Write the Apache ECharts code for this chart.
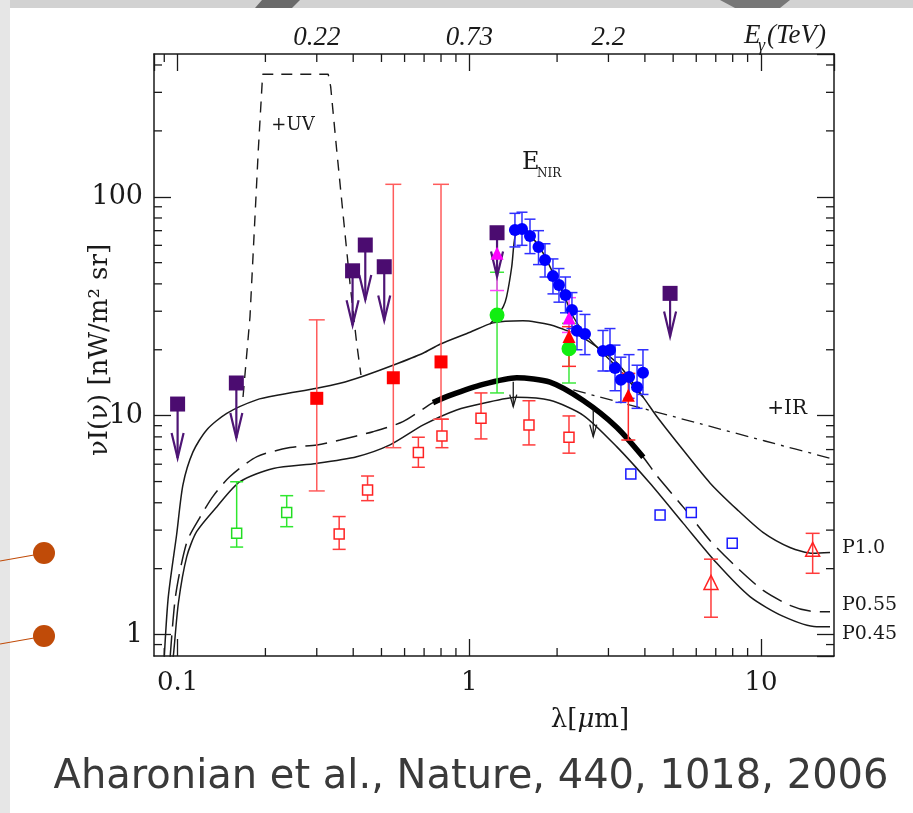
<!DOCTYPE html>
<html>
<head>
<meta charset="utf-8">
<script src="https://cdn.jsdelivr.net/npm/echarts@6/dist/echarts.min.js"></script>
<style>
html, body { margin: 0; padding: 0; background: #fff; }
#chart { width: 913px; height: 813px; }
</style>
</head>
<body>
<div id="chart"></div>
<script>
// model curves: wavelength [um] -> nuI(nu) [nW/m^2 sr]
const p10Lambda = [0.0884, 0.0927, 0.0993, 0.1043, 0.1129, 0.1258, 0.1474, 0.1866, 0.2244, 0.2998, 0.3603, 0.432, 0.5475, 0.694, 0.7932, 1.006, 1.206, 1.528, 1.891, 2.454, 3.208, 3.94, 4.402, 5.403, 6.686, 8.273, 10.16, 12.57, 15.08, 17.25]
const p10Value  = [0.50, 1.44, 2.88, 4.83, 6.83, 8.61, 10.25, 11.81, 12.45, 13.34, 14.06, 15.14, 16.99, 19.28, 21.2, 24.05, 26.54, 27.11, 26.0, 22.67, 17.43, 12.19, 9.88, 6.98, 4.93, 3.73, 2.93, 2.50, 2.35, 2.37]

const nirLambda = [1.178, 1.245, 1.308, 1.343, 1.398, 1.435, 1.492, 1.552, 1.657, 1.794, 1.941, 2.100, 2.273, 2.459, 2.734, 3.201, 3.749, 3.950]
const nirValue  = [26.24, 28.53, 31.46, 34.95, 47.9, 65.7, 70.4, 70.8, 64.5, 55.1, 44.6, 36.1, 28.3, 24.15, 20.63, 16.71, 13.08, 12.15]

const p055Lambda = [0.0912, 0.098, 0.1075, 0.1193, 0.1322, 0.1512, 0.1872, 0.2428, 0.3005, 0.3603, 0.4676, 0.5924, 0.7509, 0.8587, 1.114, 1.454, 1.891, 2.459, 3.201, 3.95, 4.39, 5.417, 6.686, 8.254, 10.18, 12.57, 14.72, 17.25]
const p055Value  = [0.41, 1.44, 2.64, 3.43, 4.28, 5.27, 6.50, 7.15, 7.35, 7.74, 8.45, 9.39, 11.47, 12.37, 13.89, 14.90, 14.23, 11.73, 8.86, 6.46, 5.33, 3.82, 2.69, 2.03, 1.59, 1.36, 1.28, 1.27]

const thickLambda = [0.7509, 0.8587, 1.114, 1.454, 1.891, 2.459, 3.201, 3.95]
const thickValue  = [11.47, 12.37, 13.89, 14.90, 14.23, 11.73, 8.86, 6.46]

const p045Lambda = [0.0927, 0.0967, 0.1006, 0.1075, 0.1162, 0.1362, 0.1636, 0.2128, 0.2998, 0.4111, 0.5347, 0.6957, 0.9053, 1.117, 1.454, 1.891, 2.459, 3.201, 4.165, 5.417, 7.049, 9.169, 11.93, 15.52, 17.25]
const p045Value  = [0.50, 0.80, 1.39, 2.27, 2.95, 3.83, 4.99, 5.74, 6.05, 6.49, 7.35, 9.07, 10.62, 11.40, 12.14, 11.76, 10.04, 7.22, 4.91, 3.22, 2.12, 1.49, 1.21, 1.086, 1.086]

const uvLambda = [0.1676, 0.1771, 0.1842, 0.1891, 0.1957, 0.3285, 0.3348, 0.3511, 0.3699, 0.39, 0.4111, 0.4252]
const uvValue  = [12.17, 28.35, 81.1, 163.6, 362.8, 362.8, 318.4, 163.6, 81.1, 40.2, 21.4, 15.34]

const irLambda = [2.273, 6.18, 10.32, 17.25]
const irValue  = [13.11, 9.19, 7.66, 6.39]

// measurements
const ulLambda  = [0.100, 0.159, 0.398, 0.440, 0.511, 1.245, 4.88]
const ulValue   = [11.3, 14.1, 45.9, 60.2, 47.9, 68.5, 36.2]
const ulArrowTo = [6.41, 7.91, 25.9, 33.8, 27.2, 43.2, 23.0]

const redSqLambda = [0.300, 0.549, 0.800]
const redSqValue  = [12.0, 14.9, 17.6]
const redSqLow    = [4.53, 7.14, 9.63]
const redSqHigh   = [27.4, 114, 114]

const redOpenLambda = [0.358, 0.448, 0.669, 0.806, 1.097, 1.602, 2.197]
const redOpenValue  = [2.88, 4.58, 6.78, 8.08, 9.73, 9.07, 7.97]
const redOpenLow    = [2.45, 4.09, 5.81, 7.14, 7.83, 7.35, 6.74]
const redOpenHigh   = [3.46, 5.30, 7.97, 9.64, 12.7, 11.7, 9.97]

const greenOpenLambda = [0.1594, 0.2366]
const greenOpenValue  = [2.90, 3.61]
const greenOpenLow    = [2.51, 3.11]
const greenOpenHigh   = [4.99, 4.31]

const greenLambda = [1.245, 2.197]
const greenValue  = [28.8, 20.2]
const greenLow    = [12.7, 14.1]
const greenHigh   = [45.2, 26.4]

const magLambda = [1.245, 2.197]
const magValue  = [55.2, 27.9]
const magLow    = [37.3, 24.0]
const magHigh   = [70.5, 34.6]

const redTriLambda = [2.197, 3.51]
const redTriValue  = [23.0, 12.4]
const redTriLow    = [16.8, 7.74]
const redTriHigh   = [25.5, 15.6]

const redOpenTriLambda = [6.74, 15.04]
const redOpenTriValue  = [1.73, 2.45]
const redOpenTriLow    = [1.20, 1.905]
const redOpenTriHigh   = [2.21, 2.90]

const blueOpenLambda = [3.58, 4.51, 5.77, 7.97]
const blueOpenValue  = [5.42, 3.52, 3.61, 2.61]

const blueLambda = [1.434, 1.516, 1.615, 1.727, 1.818, 1.936, 2.03, 2.137, 2.249, 2.34, 2.493, 2.873, 3.037, 3.16, 3.31, 3.53, 3.76, 3.94]
const blueValue  = [70.5, 71.2, 66.2, 59.0, 51.4, 43.4, 39.5, 35.6, 30.4, 24.4, 23.6, 19.75, 19.95, 16.5, 14.6, 15.0, 13.5, 15.7]
const blueLow    = [59, 60, 55, 49, 43, 36, 33, 29.5, 25, 20, 19, 16, 16, 13, 11.5, 12, 10.8, 12.5]
const blueHigh   = [84, 85, 79, 70, 61, 52, 47, 43, 36.5, 30, 29, 24.5, 25, 21, 18.5, 19, 17, 20]

const limLambda = [1.415, 2.661]
const limFrom   = [14.3, 10.62]
const limTo     = [11.0, 8.02]

// axes
const xMinorTicks = [0.09, 0.2, 0.3, 0.4, 0.5, 0.6, 0.7, 0.8, 0.9, 2, 3, 4, 5, 6, 7, 8, 9]
const yMinorTicks = [0.9, 2, 3, 4, 5, 6, 7, 8, 9, 20, 30, 40, 50, 60, 70, 80, 90, 200, 300, 400]
const energyLabels = ['0.22', '0.73', '2.2']
const energyLambda = [0.3, 1, 3]

const INK = '#1a1a1a'
const SERIF = 'DejaVu Serif'

const zip = (xs, ...cols) => xs.map((x, i) => [x, ...cols.map(c => c[i])])

function curve(name, xs, ys, style, smooth = 0.25) {
  return { type: 'line', name, data: zip(xs, ys), symbol: 'none', z: 2, clip: true, smooth,
    lineStyle: Object.assign({ color: INK, width: 1.5 }, style) }
}

function errorBars(name, xs, lo, hi, color, cap, width = 1.5) {
  return {
    type: 'custom', name, z: 3, data: zip(xs, lo, hi),
    encode: { x: 0, y: [1, 2] },
    renderItem: (params, api) => {
      const a = api.coord([api.value(0), api.value(1)])
      const b = api.coord([api.value(0), api.value(2)])
      const style = { stroke: color, lineWidth: width }
      return { type: 'group', children: [
        { type: 'line', shape: { x1: a[0], y1: a[1], x2: b[0], y2: b[1] }, style },
        { type: 'line', shape: { x1: a[0] - cap, y1: a[1], x2: a[0] + cap, y2: a[1] }, style },
        { type: 'line', shape: { x1: b[0] - cap, y1: b[1], x2: b[0] + cap, y2: b[1] }, style },
      ] }
    },
  }
}

function arrows(name, xs, from, to, color, width, headHalf, headLen, z) {
  return {
    type: 'custom', name, z, data: zip(xs, from, to),
    encode: { x: 0, y: [1, 2] },
    renderItem: (params, api) => {
      const a = api.coord([api.value(0), api.value(1)])
      const b = api.coord([api.value(0), api.value(2)])
      const style = { stroke: color, lineWidth: width, fill: null }
      return { type: 'group', children: [
        { type: 'line', shape: { x1: a[0], y1: a[1], x2: b[0], y2: b[1] }, style },
        { type: 'polyline', shape: { points: [[b[0] - headHalf, b[1] - headLen], [b[0], b[1]], [b[0] + headHalf, b[1] - headLen]] }, style },
      ] }
    },
  }
}

function points(name, xs, ys, symbol, size, fill, stroke, z = 4) {
  return { type: 'scatter', name, data: zip(xs, ys), symbol, symbolSize: size, z,
    itemStyle: { color: fill, borderColor: stroke || fill, borderWidth: stroke ? 1.5 : 0, opacity: 1 } }
}

const minorX = {
  type: 'custom', name: 'xMinor', z: 1, data: xMinorTicks.map(v => [v, 1]),
  renderItem: (params, api) => {
    const cs = params.coordSys
    const x = api.coord([api.value(0), 1])[0]
    const style = { stroke: INK, lineWidth: 1.3 }
    return { type: 'group', children: [
      { type: 'line', shape: { x1: x, y1: cs.y + cs.height, x2: x, y2: cs.y + cs.height - 8 }, style },
      { type: 'line', shape: { x1: x, y1: cs.y, x2: x, y2: cs.y + 8 }, style },
    ] }
  },
}
const minorY = {
  type: 'custom', name: 'yMinor', z: 1, data: yMinorTicks.map(v => [1, v]),
  renderItem: (params, api) => {
    const cs = params.coordSys
    const y = api.coord([1, api.value(1)])[1]
    const style = { stroke: INK, lineWidth: 1.3 }
    return { type: 'group', children: [
      { type: 'line', shape: { x1: cs.x, y1: y, x2: cs.x + 8, y2: y }, style },
      { type: 'line', shape: { x1: cs.x + cs.width, y1: y, x2: cs.x + cs.width - 8, y2: y }, style },
    ] }
  },
}

const isDecade = v => Math.abs(Math.log10(v) - Math.round(Math.log10(v))) < 1e-6
const decadeLabel = v => isDecade(v) ? String(Math.round(Math.log10(v)) < 0 ? Number(v.toFixed(3)) : Math.round(v)) : ''

const axisCommon = {
  type: 'log', logBase: 10,
  axisLine: { show: true, lineStyle: { color: INK, width: 1.5 } },
  axisTick: { show: true, inside: true, length: 17, lineStyle: { color: INK, width: 1.3 } },
  splitLine: { show: false },
  minorTick: { show: false },
}

const chart = echarts.init(document.getElementById('chart'))
chart.setOption({
  animation: false,
  backgroundColor: '#fff',
  grid: { left: 154, right: 79, top: 54, bottom: 157 },
  xAxis: [
    Object.assign({}, axisCommon, { position: 'bottom', min: 0.083, max: 17.8,
      axisLabel: { formatter: decadeLabel, showMinLabel: false, showMaxLabel: false, margin: 14,
        fontFamily: SERIF, fontSize: 26, color: INK } }),
    Object.assign({}, axisCommon, { position: 'top', min: 0.083, max: 17.8, axisLabel: { show: false } }),
  ],
  yAxis: [
    Object.assign({}, axisCommon, { position: 'left', min: 0.798, max: 449,
      axisLabel: { formatter: decadeLabel, showMinLabel: false, showMaxLabel: false, margin: 11,
        fontFamily: SERIF, fontSize: 27, color: INK } }),
    Object.assign({}, axisCommon, { position: 'right', min: 0.798, max: 449, axisLabel: { show: false } }),
  ],
  series: [
    minorX, minorY,
    curve('+UV', uvLambda, uvValue, { type: [11, 8], width: 1.4 }, false),
    curve('+IR', irLambda, irValue, { type: [13, 6, 3, 6], width: 1.3 }),
    curve('P0.45', p045Lambda, p045Value, {}),
    curve('P0.55', p055Lambda, p055Value, { type: [22, 9] }),
    curve('P0.55 fit', thickLambda, thickValue, { width: 5.5, color: '#000' }),
    curve('P1.0', p10Lambda, p10Value, {}),
    curve('NIR', nirLambda, nirValue, {}),
    errorBars('red sq err', redSqLambda, redSqLow, redSqHigh, '#ff5c5c', 8),
    errorBars('red open err', redOpenLambda, redOpenLow, redOpenHigh, '#ff3b3b', 6.5),
    errorBars('green open err', greenOpenLambda, greenOpenLow, greenOpenHigh, '#2fe82f', 6.5),
    errorBars('green err', greenLambda, greenLow, greenHigh, '#3de83d', 7),
    errorBars('mag err', magLambda, magLow, magHigh, '#ff44ff', 7),
    errorBars('red tri err', redTriLambda, redTriLow, redTriHigh, '#ff2a2a', 7),
    errorBars('red open tri err', redOpenTriLambda, redOpenTriLow, redOpenTriHigh, '#ff3b3b', 7),
    errorBars('blue err', blueLambda, blueLow, blueHigh, '#2f2fff', 5.5),
    arrows('ul arrows', ulLambda, ulValue, ulArrowTo, '#4e1575', 2.2, 6, 25, 3),
    arrows('lim arrows', limLambda, limFrom, limTo, INK, 1.3, 3.5, 12, 3),
    points('red open', redOpenLambda, redOpenValue, 'rect', 10, '#fff', '#ff2222'),
    points('green open', greenOpenLambda, greenOpenValue, 'rect', 10, '#fff', '#22dd22'),
    points('blue open', blueOpenLambda, blueOpenValue, 'rect', 10, '#fff', '#1a1aff'),
    points('red open tri', redOpenTriLambda, redOpenTriValue, 'triangle', 14, 'rgba(255,255,255,0)', '#ff2222'),
    points('blue', blueLambda, blueValue, 'circle', 12, '#0000ff'),
    points('green', greenLambda, greenValue, 'circle', 15, '#11ee11'),
    points('red tri', redTriLambda, redTriValue, 'triangle', 13, '#ff0000'),
    points('magenta', magLambda, magValue, 'triangle', 13, '#ff00ff'),
    points('red sq', redSqLambda, redSqValue, 'rect', 13, '#ff0000'),
    points('upper limits', ulLambda, ulValue, 'rect', 15, '#4b0c70', null, 5),
  ],
})

// labels that belong to the top (photon energy) scale
const energyText = energyLabels.map((t, i) => ({
  type: 'text', x: chart.convertToPixel({ xAxisIndex: 0 }, energyLambda[i]), y: 38,
  style: { text: t, align: 'center', verticalAlign: 'middle', font: 'italic 27px "Liberation Serif"', fill: INK },
}))

const txt = (text, x, y, size, align = 'left', extra = {}) => Object.assign({
  type: 'text', x, y,
  style: { text, align, verticalAlign: 'middle', font: size + 'px "' + SERIF + '"', fill: INK },
}, extra)

chart.setOption({
  graphic: [
    // slide background around the figure
    { type: 'rect', shape: { x: 0, y: 0, width: 913, height: 8 }, style: { fill: '#d2d2d2' }, z: -1 },
    { type: 'rect', shape: { x: 0, y: 0, width: 10, height: 813 }, style: { fill: '#e6e6e6' }, z: -1 },
    { type: 'polygon', shape: { points: [[262, 0], [300, 0], [292, 8], [255, 8]] }, style: { fill: '#6a6a6a' }, z: -1 },
    { type: 'polygon', shape: { points: [[720, 0], [790, 0], [780, 8], [735, 8]] }, style: { fill: '#777' }, z: -1 },
    { type: 'line', shape: { x1: 0, y1: 561, x2: 34, y2: 555 }, style: { stroke: '#c04b08', lineWidth: 1.2 } },
    { type: 'circle', shape: { cx: 44, cy: 553, r: 11 }, style: { fill: '#c04b08' } },
    { type: 'line', shape: { x1: 0, y1: 644, x2: 34, y2: 638 }, style: { stroke: '#c04b08', lineWidth: 1.2 } },
    { type: 'circle', shape: { cx: 44, cy: 636, r: 11 }, style: { fill: '#c04b08' } },
    ...energyText,
    { type: 'text', x: 744, y: 36, style: { text: 'E', align: 'left', verticalAlign: 'middle', font: 'italic 27px "Liberation Serif"', fill: INK } },
    { type: 'text', x: 758, y: 46, style: { text: 'γ', align: 'left', verticalAlign: 'middle', font: 'italic 18px "Liberation Serif"', fill: INK } },
    { type: 'text', x: 767, y: 36, style: { text: '(TeV)', align: 'left', verticalAlign: 'middle', font: 'italic 27px "Liberation Serif"', fill: INK } },
    txt('+UV', 293, 125, 18, 'center'),
    txt('E', 522, 163, 24),
    txt('NIR', 537, 174, 12),
    txt('+IR', 807, 409, 20, 'right'),
    txt('P1.0', 842, 548, 19),
    txt('P0.55', 842, 605, 19),
    txt('P0.45', 842, 634, 19),
    { type: 'text', x: 590, y: 720, style: { text: '{a|λ[}{b|μ}{a|m]}', align: 'center', verticalAlign: 'middle',
      rich: { a: { font: '26px "DejaVu Serif"', fill: INK }, b: { font: 'italic 26px "DejaVu Serif"', fill: INK } } } },
    txt('νI(ν) [nW/m² sr]', 100, 350, 26, 'center', { rotation: Math.PI / 2 }),
    { type: 'text', x: 471, y: 778, style: { text: 'Aharonian et al., Nature, 440, 1018, 2006', align: 'center', verticalAlign: 'middle',
      font: '40px "DejaVu Sans"', fill: '#3a3a3a' } },
  ],
})
</script>
</body>
</html>
